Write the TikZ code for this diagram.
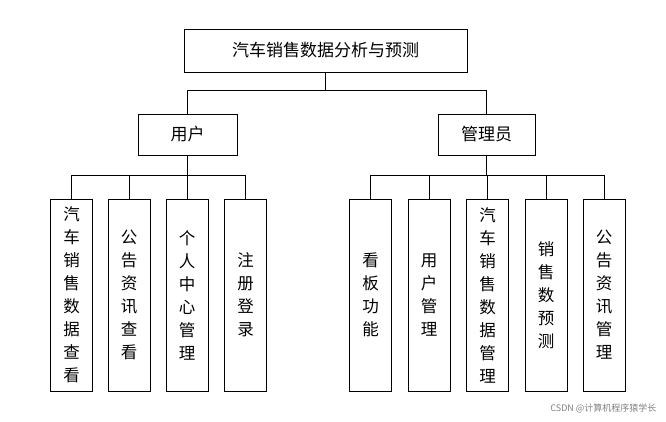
\documentclass[tikz,border=0pt]{standalone}
\usepackage{fontspec}
\newfontfamily\cjk{Noto Sans CJK SC}
\begin{document}
\begin{tikzpicture}[x=1pt,y=-1pt,
  box/.style={draw,line width=0.8pt,inner sep=0pt,font=\cjk\fontsize{17}{20}\selectfont},
  vbox/.style={draw,line width=0.8pt,inner sep=0pt,minimum width=42pt,minimum height=192pt,align=center,font=\cjk\fontsize{16.5}{23}\selectfont},
  ln/.style={line width=0.8pt}]
\useasboundingbox (0,0) rectangle (666,421);
\node[box,minimum width=283pt,minimum height=43pt] (root) at (325.5,50.5) {汽车销售数据分析与预测};
\node[box,minimum width=99pt,minimum height=41pt] (u) at (187.5,134.5) {用户};
\node[box,minimum width=97pt,minimum height=41pt] (a) at (486.5,134.5) {管理员};
\node[vbox] (u1) at (71.5,295) {汽\\车\\销\\售\\数\\据\\查\\看};
\node[vbox] (u2) at (129,295) {公\\告\\资\\讯\\查\\看};
\node[vbox] (u3) at (187,295) {个\\人\\中\\心\\管\\理};
\node[vbox] (u4) at (245.5,295) {注\\册\\登\\录};
\node[vbox] (a1) at (370.5,295) {看\\板\\功\\能};
\node[vbox] (a2) at (429,295) {用\\户\\管\\理};
\node[vbox] (a3) at (487.5,295) {汽\\车\\销\\售\\数\\据\\管\\理};
\node[vbox] (a4) at (546,295) {销\\售\\数\\预\\测};
\node[vbox] (a5) at (604,295) {公\\告\\资\\讯\\管\\理};
\coordinate (j0) at (0,90);
\coordinate (j1) at (0,175);
\draw[ln] (root.south) -- (root.south |- j0);
\draw[ln] (u.north |- j0) -- (a.north |- j0);
\foreach \n in {u,a} \draw[ln] (\n.north |- j0) -- (\n.north);
\draw[ln] (u.south) -- (u.south |- j1);
\draw[ln] (u1.north |- j1) -- (u4.north |- j1);
\foreach \n in {u1,u2,u3,u4} \draw[ln] (\n.north |- j1) -- (\n.north);
\draw[ln] (a.south) -- (a.south |- j1);
\draw[ln] (a1.north |- j1) -- (a5.north |- j1);
\foreach \n in {a1,a2,a3,a4,a5} \draw[ln] (\n.north |- j1) -- (\n.north);
\node[anchor=east,text=gray,font=\cjk\fontsize{9}{10}\selectfont] (wm) at (660,408) {CSDN @计算机程序猿学长};
\end{tikzpicture}
\end{document}
